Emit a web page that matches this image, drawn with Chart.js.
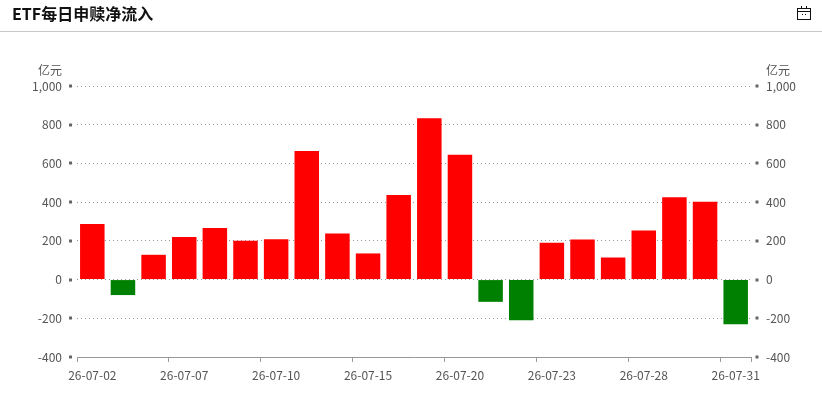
<!DOCTYPE html>
<html lang="zh-CN">
<head>
<meta charset="utf-8">
<title>ETF每日申赎净流入</title>
<script src="https://cdn.jsdelivr.net/npm/chart.js@4.4.1/dist/chart.umd.min.js"></script>
<style>
  html, body { margin: 0; padding: 0; background: #fff; }
  #wrap { position: relative; width: 822px; height: 404px; overflow: hidden; }
  #title { position: absolute; left: 12px; top: 5px; line-height: 16px; font: bold 16px/16px "Noto Sans CJK SC", sans-serif; color: #111; }
  #rule { position: absolute; left: 0; top: 31px; width: 822px; height: 1px; background: #c8c8c8; }
  #cal { position: absolute; left: 796px; top: 5px; }
  #chart { position: absolute; left: 0; top: 0; }
</style>
</head>
<body>
<div id="wrap">
  <canvas id="chart" width="822" height="404"></canvas>
  <div id="title">ETF每日申赎净流入</div>
  <div id="rule"></div>
  <svg id="cal" width="16" height="16" viewBox="0 0 16 16">
    <rect x="1.5" y="3.5" width="13" height="11" fill="none" stroke="#111" stroke-width="1"/>
    <line x1="1.5" y1="6.5" x2="14.5" y2="6.5" stroke="#111" stroke-width="1"/>
    <line x1="5.5" y1="1" x2="5.5" y2="4" stroke="#111" stroke-width="1"/>
    <line x1="10.5" y1="1" x2="10.5" y2="4" stroke="#111" stroke-width="1"/>
    <rect x="6" y="9" width="1" height="1" fill="#111"/>
    <rect x="9" y="9" width="1" height="1" fill="#111"/>
  </svg>
</div>
<script>
// trading days, July 2026
const dates = [
  "26-07-02", "26-07-03", "26-07-06", "26-07-07", "26-07-08", "26-07-09",
  "26-07-10", "26-07-13", "26-07-14", "26-07-15", "26-07-16", "26-07-17",
  "26-07-20", "26-07-21", "26-07-22", "26-07-23", "26-07-24", "26-07-27",
  "26-07-28", "26-07-29", "26-07-30", "26-07-31"
];
// net creation/redemption inflow, 亿元
const netFlow = [
  287, -80, 128, 220, 267, 200, 208, 664, 238, 135, 437,
  833, 645, -115, -210, 190, 207, 114, 254, 425, 402, -231
];
const yMin = -400;
const yMax = 1000;
const yStep = 200;
const unit = "亿元";

const font = { family: "\"Noto Sans CJK SC\", \"Noto Sans\", sans-serif", size: 12 };
const tickGray = "#555";

// little square markers beside each y tick, plus the unit labels
const axisMarks = {
  id: "axisMarks",
  afterDraw(chart) {
    const ctx = chart.ctx;
    const area = chart.chartArea;
    const y = chart.scales.y;
    ctx.save();
    ctx.fillStyle = "#666";
    y.ticks.forEach((t, i) => {
      const py = Math.round(y.getPixelForTick(i));
      ctx.fillRect(area.left - 8, py - 1.5, 3, 3);
      ctx.fillRect(area.right + 4.5, py - 1.5, 3, 3);
    });
    ctx.font = "12px " + font.family;
    ctx.fillStyle = tickGray;
    ctx.textBaseline = "middle";
    ctx.textAlign = "right";
    ctx.fillText(unit, area.left - 15, area.top - 16);
    ctx.textAlign = "left";
    ctx.fillText(unit, area.right + 15, area.top - 16);
    ctx.restore();
  }
};

new Chart(document.getElementById("chart").getContext("2d"), {
  type: "bar",
  data: {
    labels: dates,
    datasets: [
      {
        data: netFlow,
        backgroundColor: netFlow.map(v => (v >= 0 ? "#ff0000" : "#008000")),
        borderWidth: 0,
        barPercentage: 0.8,
        categoryPercentage: 1.0
      }
    ]
  },
  options: {
    responsive: false,
    animation: false,
    layout: { padding: { top: 86, left: 0, right: 0, bottom: 0 } },
    plugins: {
      legend: { display: false },
      tooltip: { enabled: false }
    },
    scales: {
      x: {
        grid: {
          offset: true,
          drawOnChartArea: false,
          drawTicks: true,
          tickLength: 5,
          tickColor: c => (c.index === undefined || c.index % 3 === 0 ? "#999" : "rgba(0,0,0,0)")
        },
        border: { display: true, color: "#999" },
        ticks: {
          autoSkip: false,
          maxRotation: 0,
          padding: 6,
          color: tickGray,
          font: font,
          callback: (v, i) => (i % 3 === 0 ? dates[i] : "")
        },
        afterFit(s) { s.height = 47; }
      },
      y: {
        position: "left",
        min: yMin,
        max: yMax,
        ticks: {
          stepSize: yStep,
          padding: 15,
          color: tickGray,
          font: font,
          callback: v => v.toLocaleString("en-US")
        },
        grid: {
          drawTicks: false,
          lineWidth: 1,
          color: c => (c.tick && c.tick.value === yMin ? "rgba(0,0,0,0)" : "#999")
        },
        border: { display: false, dash: [1, 3] },
        afterFit(s) { s.width = 77; }
      },
      y1: {
        position: "right",
        min: yMin,
        max: yMax,
        ticks: {
          stepSize: yStep,
          padding: 15,
          color: tickGray,
          font: font,
          callback: v => v.toLocaleString("en-US")
        },
        grid: { drawOnChartArea: false, drawTicks: false },
        border: { display: false },
        afterFit(s) { s.width = 71; }
      }
    }
  },
  plugins: [axisMarks]
});
</script>
</body>
</html>
